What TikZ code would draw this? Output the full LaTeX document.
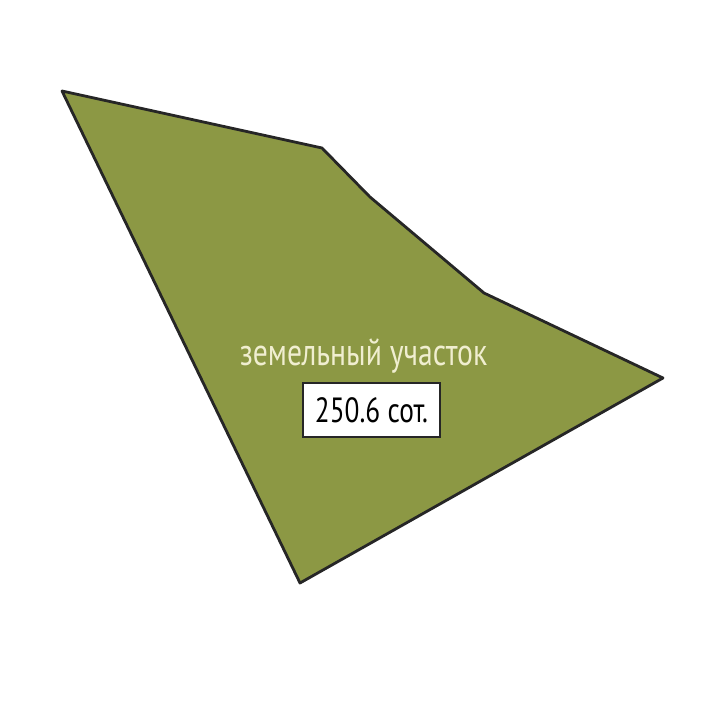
\documentclass[tikz,border=0pt]{standalone}
\usepackage{fontspec}
\setmainfont{PT Sans}
\newfontfamily\narrowfont[FakeStretch=0.78]{PT Sans}
\definecolor{plotgreen}{RGB}{140,152,68}
\definecolor{labelcream}{RGB}{240,238,208}
\begin{document}
\begin{tikzpicture}[x=1pt,y=-1pt,
  plot/.style={fill=plotgreen,draw=black!85,line width=2.8pt,line join=round},
  areabox/.style={fill=white,draw=black!85,line width=1.3pt,minimum width=137pt,minimum height=54pt,inner sep=0pt},
  title/.style={text=labelcream,font=\narrowfont\fontsize{38}{38}\selectfont,inner sep=0pt}]
\useasboundingbox (0,0) rectangle (725,725);
\coordinate (p1) at (62,91);
\coordinate (p2) at (322,148);
\coordinate (p3) at (370,197);
\coordinate (p4) at (484,293);
\coordinate (p5) at (663,378);
\coordinate (p6) at (300,583);
\draw[plot] (p1) -- (p2) -- (p3) -- (p4) -- (p5) -- (p6) -- cycle;
\node[title,anchor=base] (t) at (363.5,365) {земельный участок};
\node[areabox] (b) at (371.5,410) {\narrowfont\fontsize{35}{35}\selectfont 250.6 сот.};
\end{tikzpicture}
\end{document}
